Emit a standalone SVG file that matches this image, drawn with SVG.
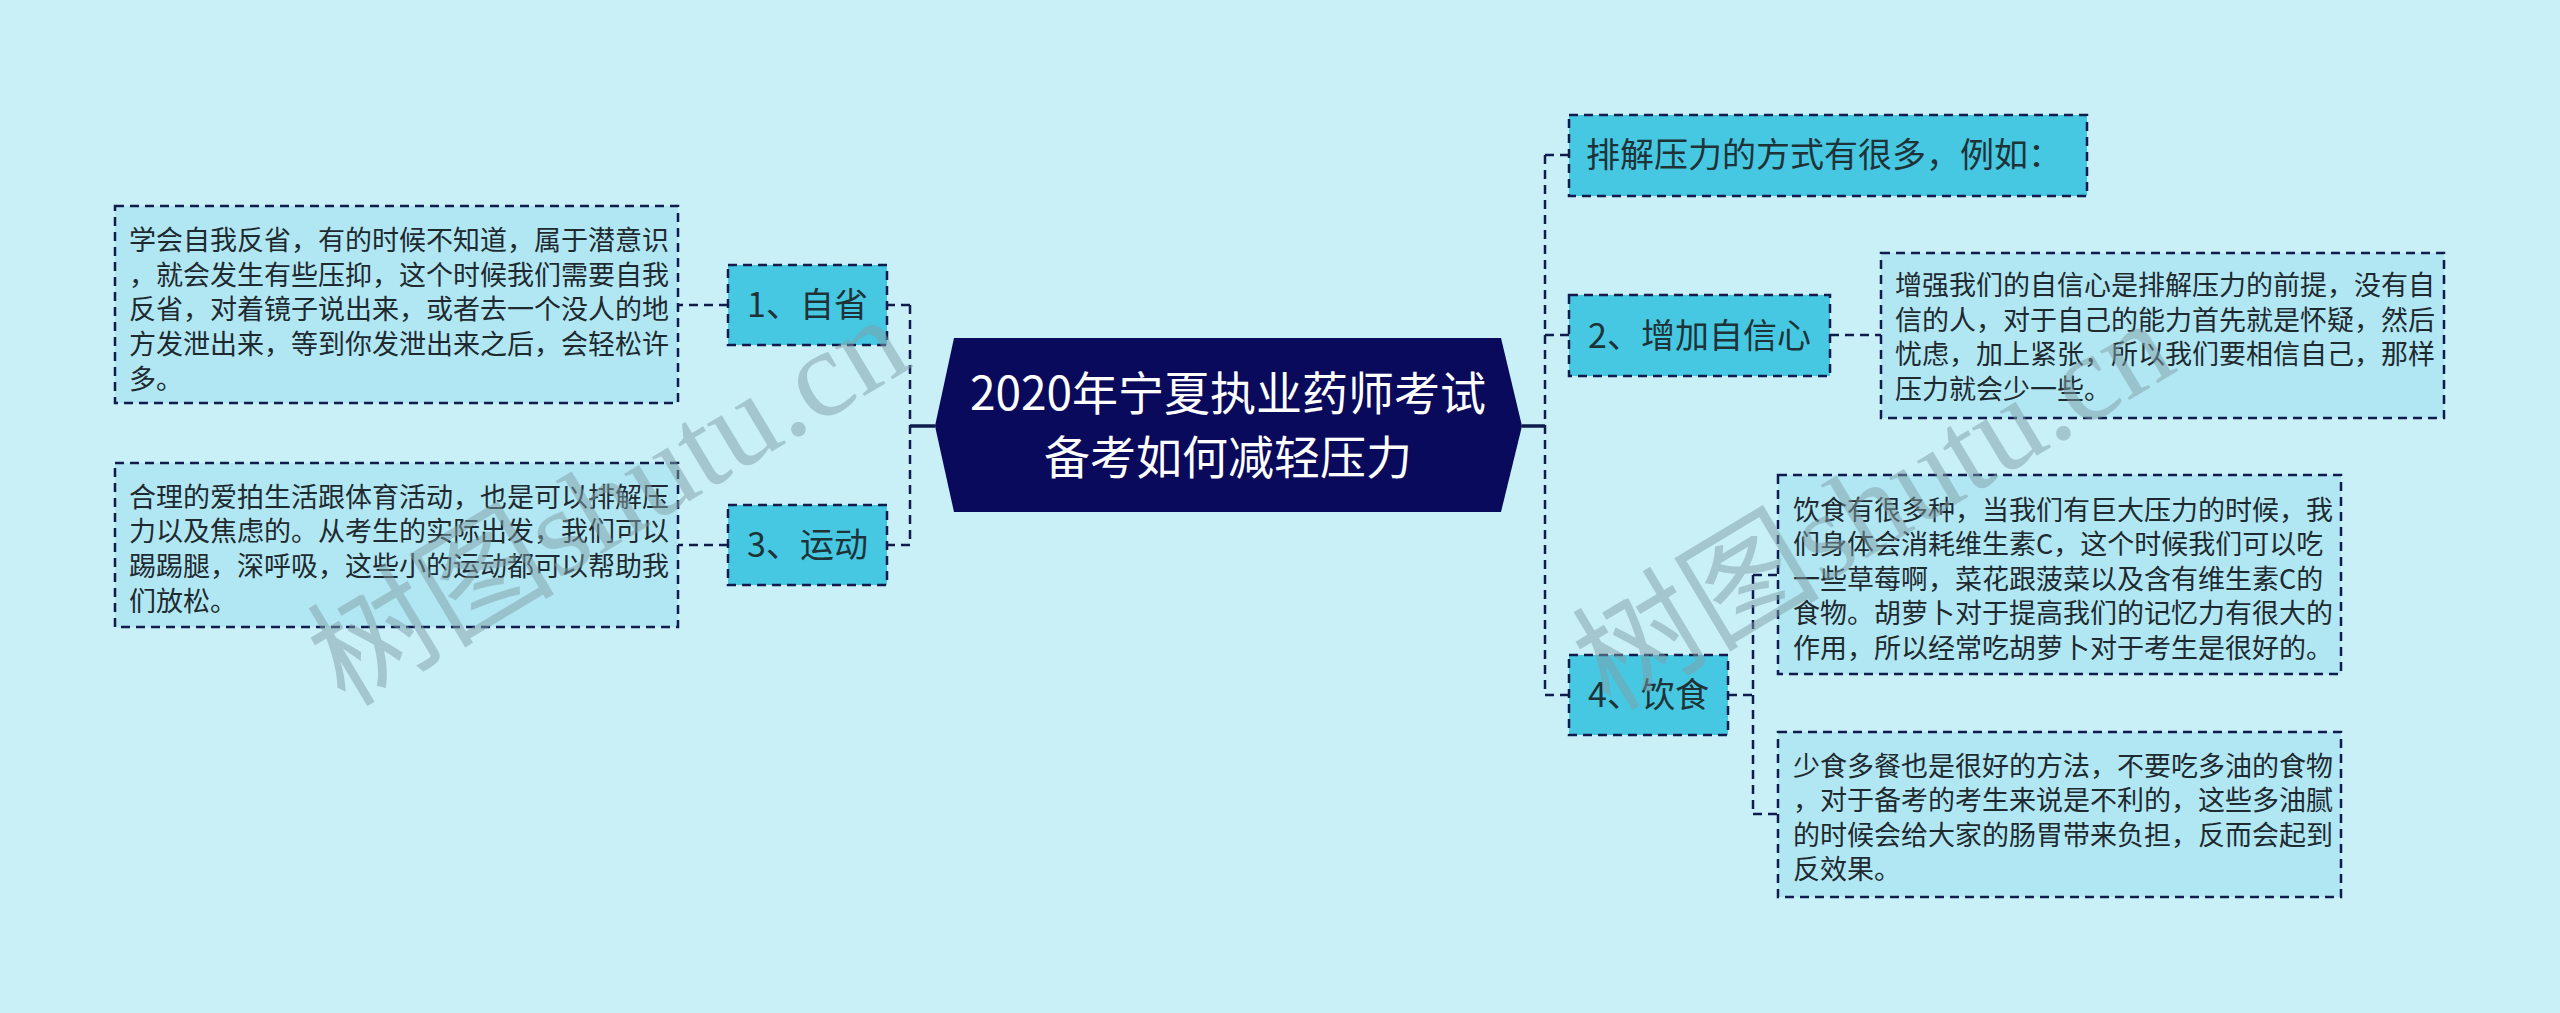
<svg xmlns="http://www.w3.org/2000/svg" width="2560" height="1013" viewBox="0 0 2560 1013">
<style>
.bg{fill:#c9eff7}
.node{fill:#47c8e2;stroke:#0f1c4d;stroke-width:2.5;stroke-dasharray:9 6}
.box{fill:#b1e7f3;stroke:#0f1c4d;stroke-width:2.5;stroke-dasharray:9 6}
.root{fill:#0a0a5c}
.rt{font-family:"Noto Sans CJK SC","Noto Sans",sans-serif;font-size:46px;fill:#ffffff;text-anchor:middle}
.nt{font-family:"Noto Sans CJK SC","Noto Sans",sans-serif;font-size:34px;fill:#1e3338}
.bt{font-family:"Noto Sans CJK SC","Noto Sans",sans-serif;font-size:27px;fill:#1e2a30}
.mid{text-anchor:middle}
.dash{fill:none;stroke:#0f1c4d;stroke-width:2.5;stroke-dasharray:9 6}
.solid{fill:none;stroke:#0f1c4d;stroke-width:3.5}
.wm{font-family:"Liberation Serif","Noto Sans CJK SC",serif;font-size:124px;fill:#7f9ea6;fill-opacity:0.5}
</style>
<rect class="bg" x="0" y="0" width="2560" height="1013"/>
<g id="connectors">
<path class="solid" d="M935,426 H910"/>
<path class="dash" d="M910,305 V545"/>
<path class="dash" d="M910,305 H887 M910,545 H887"/>
<path class="dash" d="M728,305 H678 M728,545 H678"/>
<path class="solid" d="M1522,426 H1545"/>
<path class="dash" d="M1545,155 V695"/>
<path class="dash" d="M1545,155 H1569 M1545,335 H1569 M1545,695 H1569"/>
<path class="dash" d="M1830,335 H1881"/>
<path class="dash" d="M1728,695 H1753 M1753,575 V814 M1753,575 H1778 M1753,814 H1778"/>
</g>
<g id="root">
<polygon class="root" points="954,338 1501,338 1522,426 1501,512 954,512 935,426"/>
<text class="rt" x="1228" y="410">2020年宁夏执业药师考试</text>
<text class="rt" x="1228" y="474">备考如何减轻压力</text>
</g>
<g id="n1">
<rect class="node" x="728" y="265" width="159" height="80"/>
<text class="nt mid" x="807.5" y="317">1、自省</text>
</g>
<g id="n1t">
<rect class="box" x="115" y="206" width="563" height="197"/>
<text class="bt" x="129" y="250">学会自我反省，有的时候不知道，属于潜意识</text>
<text class="bt" x="129" y="284.7">，就会发生有些压抑，这个时候我们需要自我</text>
<text class="bt" x="129" y="319.4">反省，对着镜子说出来，或者去一个没人的地</text>
<text class="bt" x="129" y="354.1">方发泄出来，等到你发泄出来之后，会轻松许</text>
<text class="bt" x="129" y="388.8">多。</text>
</g>
<g id="n3">
<rect class="node" x="728" y="505" width="159" height="80"/>
<text class="nt mid" x="807.5" y="557">3、运动</text>
</g>
<g id="n3t">
<rect class="box" x="115" y="463" width="563" height="164"/>
<text class="bt" x="129" y="506.5">合理的爱拍生活跟体育活动，也是可以排解压</text>
<text class="bt" x="129" y="541.2">力以及焦虑的。从考生的实际出发，我们可以</text>
<text class="bt" x="129" y="575.9">踢踢腿，深呼吸，这些小的运动都可以帮助我</text>
<text class="bt" x="129" y="610.6">们放松。</text>
</g>
<g id="n0">
<rect class="node" x="1569" y="115" width="518" height="81"/>
<text class="nt" x="1586" y="167">排解压力的方式有很多，例如：</text>
</g>
<g id="n2">
<rect class="node" x="1569" y="295" width="261" height="81"/>
<text class="nt mid" x="1699.5" y="347.5">2、增加自信心</text>
</g>
<g id="n2t">
<rect class="box" x="1881" y="253" width="563" height="165"/>
<text class="bt" x="1895" y="295">增强我们的自信心是排解压力的前提，没有自</text>
<text class="bt" x="1895" y="329.6">信的人，对于自己的能力首先就是怀疑，然后</text>
<text class="bt" x="1895" y="364.2">忧虑，加上紧张，所以我们要相信自己，那样</text>
<text class="bt" x="1895" y="398.8">压力就会少一些。</text>
</g>
<g id="n4">
<rect class="node" x="1569" y="655" width="159" height="80"/>
<text class="nt mid" x="1648.5" y="707">4、饮食</text>
</g>
<g id="n4a">
<rect class="box" x="1778" y="475" width="563" height="199"/>
<text class="bt" x="1793" y="519.5">饮食有很多种，当我们有巨大压力的时候，我</text>
<text class="bt" x="1793" y="554.1">们身体会消耗维生素C，这个时候我们可以吃</text>
<text class="bt" x="1793" y="588.7">一些草莓啊，菜花跟菠菜以及含有维生素C的</text>
<text class="bt" x="1793" y="623.3">食物。胡萝卜对于提高我们的记忆力有很大的</text>
<text class="bt" x="1793" y="657.9">作用，所以经常吃胡萝卜对于考生是很好的。</text>
</g>
<g id="n4b">
<rect class="box" x="1778" y="732" width="563" height="165"/>
<text class="bt" x="1793" y="775.5">少食多餐也是很好的方法，不要吃多油的食物</text>
<text class="bt" x="1793" y="810.1">，对于备考的考生来说是不利的，这些多油腻</text>
<text class="bt" x="1793" y="844.7">的时候会给大家的肠胃带来负担，反而会起到</text>
<text class="bt" x="1793" y="879.3">反效果。</text>
</g>
<g id="watermarks">
<text class="wm" transform="translate(345,708) rotate(-31)">树图shutu.cn</text>
<text class="wm" transform="translate(1610,712) rotate(-31)">树图shutu.cn</text>
</g>
</svg>
